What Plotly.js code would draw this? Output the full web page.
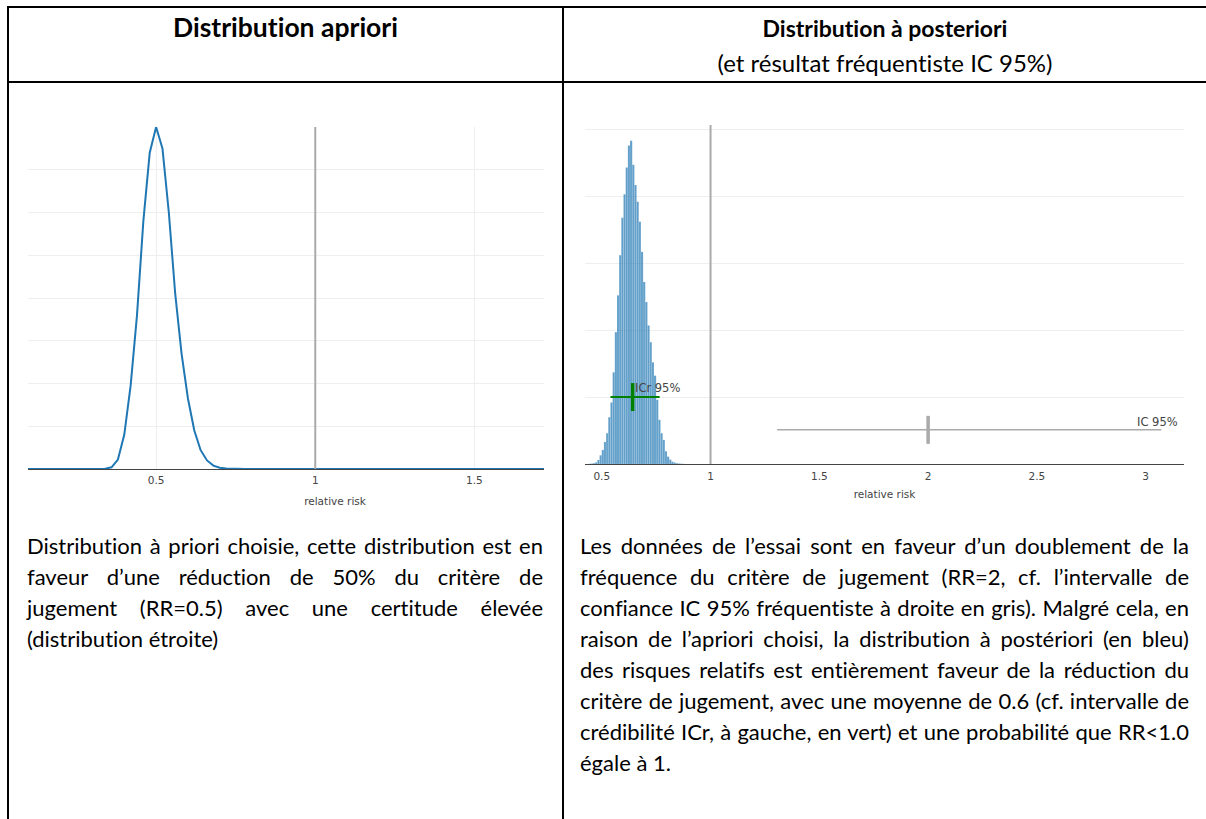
<!DOCTYPE html>
<html><head><meta charset="utf-8">
<script src="https://cdn.plot.ly/plotly-3.0.1.min.js"></script>
<style>
html,body{margin:0;padding:0;background:#fff;width:1206px;height:819px;overflow:hidden;position:relative;font-family:Lato,"Open Sans",sans-serif;color:#000;font-variant-ligatures:none;font-feature-settings:"liga" 0,"clig" 0}
.ln{position:absolute;background:#000;z-index:5}
.hd{position:absolute;text-align:center;white-space:nowrap;line-height:30px}
.para{position:absolute;font-size:22px;line-height:31px}
.para div{text-align:justify;text-align-last:justify}
.para div.last{text-align-last:left}
#clipL{position:absolute;left:0;top:0;width:543.5px;height:520px;overflow:hidden}
#prior{position:absolute;left:0;top:0}
#post{position:absolute;left:570px;top:0}
</style></head>
<body>
<div id="clipL"><div id="prior"></div></div>
<div id="post"></div>

<div class="ln" style="left:7px;top:6px;width:1199px;height:2px"></div>
<div class="ln" style="left:7px;top:81px;width:1199px;height:2px"></div>
<div class="ln" style="left:7px;top:6px;width:2px;height:813px"></div>
<div class="ln" style="left:562px;top:6px;width:2px;height:813px"></div>

<div class="hd" style="left:9px;width:553px;top:12px;font-size:26.5px;font-weight:bold">Distribution apriori</div>
<div class="hd" style="left:564px;width:642px;top:13px;font-size:23px;font-weight:bold">Distribution à posteriori</div>
<div class="hd" style="left:564px;width:642px;top:48px;font-size:24px">(et résultat fréquentiste IC 95%)</div>

<div class="para" style="left:27px;width:516px;top:530px">
<div>Distribution à priori choisie, cette distribution est en</div>
<div>faveur d’une réduction de 50% du critère de</div>
<div>jugement (RR=0.5) avec une certitude élevée</div>
<div class="last">(distribution étroite)</div>
</div>
<div class="para" style="left:580px;width:609px;top:530px">
<div>Les données de l’essai sont en faveur d’un doublement de la</div>
<div>fréquence du critère de jugement (RR=2, cf. l’intervalle de</div>
<div>confiance IC 95% fréquentiste à droite en gris). Malgré cela, en</div>
<div>raison de l’apriori choisi, la distribution à postériori (en bleu)</div>
<div>des risques relatifs est entièrement faveur de la réduction du</div>
<div>critère de jugement, avec une moyenne de 0.6 (cf. intervalle de</div>
<div>crédibilité ICr, à gauche, en vert) et une probabilité que RR&lt;1.0</div>
<div class="last">égale à 1.</div>
</div>

<script>
// Prior density (relative risk)
const priorX = [0.09, 0.32, 0.34, 0.36, 0.38, 0.40, 0.42, 0.44, 0.46, 0.48, 0.50, 0.52, 0.54, 0.56, 0.58, 0.60, 0.62, 0.64, 0.66, 0.68, 0.70, 0.72, 0.74, 0.76, 0.78, 2.05];
const priorY = [0, 0, 0.005, 0.04, 0.22, 0.8, 1.95, 3.6, 5.8, 7.4, 8.0, 7.5, 6.0, 4.1, 2.7, 1.65, 0.9, 0.44, 0.2, 0.08, 0.03, 0.01, 0.003, 0.001, 0, 0];
const priorTicks = [0.5, 1, 1.5];
const priorTickText = ['0.5', '1', '1.5'];

// Posterior histogram (bin centers, heights)
const postBins = [0.445,0.455,0.465,0.475,0.485,0.495,0.505,0.515,0.525,0.535,0.545,0.555,0.565,0.575,0.585,0.595,0.605,0.615,0.625,0.635,0.645,0.655,0.665,0.675,0.685,0.695,0.705,0.715,0.725,0.735,0.745,0.755,0.765,0.775,0.785,0.795,0.805,0.815,0.825,0.835,0.845,0.855,0.865,0.875];
const postHeights = [0.003,0.006,0.012,0.025,0.06,0.13,0.21,0.33,0.46,0.7,0.92,1.37,1.97,2.52,3.12,3.68,4.03,4.43,4.76,4.83,4.47,4.17,3.92,3.62,3.17,2.72,2.42,2.07,1.82,1.52,1.32,0.96,0.66,0.46,0.36,0.19,0.11,0.065,0.035,0.022,0.012,0.007,0.004,0.002];
const binWidth = 0.01;
const postTicks = [0.5, 1, 1.5, 2, 2.5, 3];
const postTickText = ['0.5', '1', '1.5', '2', '2.5', '3'];

// Credibility interval (ICr 95%) and frequentist CI (IC 95%)
const icr = {low: 0.54, mid: 0.642, high: 0.766, level: 1.0, label: 'ICr 95%'};
const ic = {low: 1.306, mid: 2.0, high: 3.072, level: 0.51, label: 'IC 95%'};
const refRR = 1;

const chartFont = {family: '"DejaVu Sans", Verdana, sans-serif', size: 10.5, color: '#444'};
const cfg = {staticPlot: true, displayModeBar: false};

Plotly.newPlot('prior', [{
  x: priorX, y: priorY, type: 'scatter', mode: 'lines',
  line: {color: '#1f77b4', width: 2}, hoverinfo: 'skip'
}], {
  width: 700, height: 520,
  margin: {l: 27.5, r: 58, t: 127, b: 51},
  paper_bgcolor: 'rgba(0,0,0,0)', plot_bgcolor: 'rgba(0,0,0,0)',
  showlegend: false, font: chartFont,
  xaxis: {range: [0.0976, 2.0264], tickmode: 'array', tickvals: priorTicks, ticktext: priorTickText,
          showgrid: true, gridcolor: '#eee', zeroline: false, showline: false, ticks: '', ticklabelstandoff: 3,
          title: {text: 'relative risk', font: {size: 10.5, color: '#444'}, standoff: 13}},
  yaxis: {range: [0, 8.0], dtick: 1, showticklabels: false, showgrid: true, gridcolor: '#eee',
          zeroline: true, zerolinecolor: '#444', zerolinewidth: 1},
  shapes: [{type: 'line', xref: 'x', yref: 'paper', x0: refRR, x1: refRR, y0: 0, y1: 1,
            line: {color: '#aaa', width: 2}}]
}, cfg);

Plotly.newPlot('post', [
  {type: 'bar', x: postBins, y: postHeights, width: binWidth,
   marker: {color: '#1f77b4', line: {color: 'rgba(255,255,255,0.35)', width: 0.3}}, opacity: 0.7, hoverinfo: 'skip'},
  {type: 'scatter', mode: 'lines', x: [icr.low, icr.high], y: [icr.level, icr.level],
   line: {color: 'green', width: 2}, hoverinfo: 'skip'},
  {type: 'scatter', mode: 'markers', x: [icr.mid], y: [icr.level],
   marker: {symbol: 'line-ns', size: 20, line: {color: 'green', width: 3.5}}, hoverinfo: 'skip'},
  {type: 'scatter', mode: 'lines', x: [ic.low, ic.high], y: [ic.level, ic.level],
   line: {color: '#aaa', width: 1.5}, hoverinfo: 'skip'},
  {type: 'scatter', mode: 'markers', x: [ic.mid], y: [ic.level],
   marker: {symbol: 'line-ns', size: 20, line: {color: '#aaa', width: 3.5}}, hoverinfo: 'skip'}
], {
  width: 636, height: 520,
  margin: {l: 14.7, r: 22, t: 125, b: 56},
  paper_bgcolor: 'rgba(0,0,0,0)', plot_bgcolor: 'rgba(0,0,0,0)',
  showlegend: false, font: chartFont, bargap: 0,
  xaxis: {range: [0.423, 3.176], tickmode: 'array', tickvals: postTicks, ticktext: postTickText, showgrid: false,
          zeroline: false, showline: false, ticks: '', ticklabelstandoff: 4,
          title: {text: 'relative risk', font: {size: 10.5, color: '#444'}, standoff: 10}},
  yaxis: {range: [0, 5.065], dtick: 1, showticklabels: false, showgrid: true, gridcolor: '#eee',
          zeroline: true, zerolinecolor: '#444', zerolinewidth: 1},
  shapes: [{type: 'line', xref: 'x', yref: 'paper', x0: refRR, x1: refRR, y0: 0, y1: 1,
            line: {color: '#aaa', width: 2}, layer: 'above'}],
  annotations: [
    {x: icr.mid, y: icr.level, text: icr.label, showarrow: false, xanchor: 'left', yanchor: 'middle',
     xshift: 0, yshift: 9, font: {family: chartFont.family, size: 11.5, color: '#444'}},
    {x: 3.158, y: ic.level, text: ic.label, showarrow: false, xanchor: 'right', yanchor: 'middle',
     yshift: 8, font: {family: chartFont.family, size: 11.5, color: '#444'}}
  ]
}, cfg);
</script>
</body></html>
